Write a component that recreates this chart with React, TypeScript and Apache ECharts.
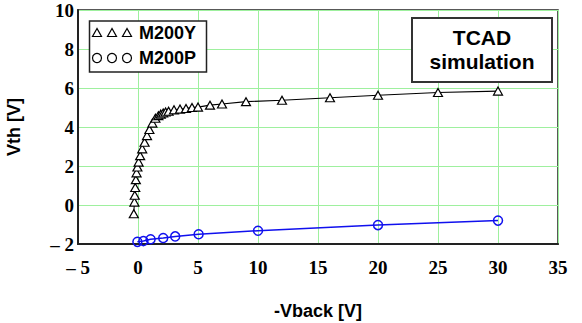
import React, { useEffect, useRef } from "react";
import * as echarts from "echarts";

const m200yX = [-0.35, -0.3, -0.27, -0.23, -0.18, -0.12, -0.05, 0.05, 0.18, 0.35, 0.55, 0.75, 0.95, 1.2, 1.45, 1.7, 1.9, 2.1, 2.3, 2.55, 3.0, 3.5, 4.0, 4.5, 5.0, 6.0, 7.0, 9.0, 12.0, 16.0, 20.0, 25.0, 30.0];
const m200yY = [-0.45, 0.15, 0.5, 0.9, 1.3, 1.65, 1.95, 2.2, 2.53, 2.88, 3.22, 3.56, 3.87, 4.2, 4.45, 4.58, 4.66, 4.72, 4.77, 4.81, 4.88, 4.92, 4.95, 5.0, 5.02, 5.12, 5.18, 5.3, 5.37, 5.5, 5.63, 5.77, 5.84];

const m200pX = [-0.05, 0.45, 1.05, 2.1, 3.1, 5.05, 10.0, 20.0, 30.0];
const m200pY = [-1.89, -1.85, -1.76, -1.69, -1.61, -1.5, -1.32, -1.03, -0.8];

const xTicks = [-5, 0, 5, 10, 15, 20, 25, 30, 35];
const yTicks = [-2, 0, 2, 4, 6, 8, 10];

const seriesNames = ["M200Y", "M200P"];
const annotation = ["TCAD", "simulation"];

const fmt = (v: number) => "{t|" + (v < 0 ? "\u2013 " + Math.abs(v) : String(v)) + "}";

export default function App() {
  const ref = useRef<HTMLDivElement>(null);
  useEffect(() => {
    if (!ref.current) return;
    const chart = echarts.init(ref.current, null, { renderer: "svg" });
    const serif = "Liberation Serif";
    const sans = "Liberation Sans";
    const tickRich = {
      t: { fontFamily: serif, fontWeight: "bold", fontSize: 19, color: "#000" },
    };
    const tri = (cx: number, cy: number) => ({
      type: "polygon",
      shape: { points: [[cx, cy - 4.5], [cx - 4.5, cy + 3.5], [cx + 4.5, cy + 3.5]] },
      style: { fill: "#fff", stroke: "#000", lineWidth: 1.2 },
    });
    const circ = (cx: number, cy: number) => ({
      type: "circle",
      shape: { cx, cy, r: 4.5 },
      style: { fill: "#fff", stroke: "#000", lineWidth: 1.2 },
    });
    chart.setOption({
      animation: false,
      backgroundColor: "#fff",
      textStyle: { fontFamily: serif },
      grid: {
        left: 78,
        right: 24,
        top: 10,
        bottom: 79,
        show: true,
        borderColor: "#222",
        borderWidth: 1.5,
        outerBoundsMode: "none",
      },
      xAxis: {
        type: "value",
        min: xTicks[0],
        max: xTicks[xTicks.length - 1],
        interval: 5,
        name: "-Vback [V]",
        nameLocation: "middle",
        nameGap: 58,
        nameTextStyle: { fontFamily: sans, fontWeight: "bold", fontSize: 18, color: "#000" },
        axisLine: { show: true, onZero: false, lineStyle: { color: "#222", width: 2 } },
        axisTick: { show: false },
        axisLabel: {
          fontFamily: serif,
          fontWeight: "bold",
          fontSize: 19,
          color: "#000",
          margin: 14,
          formatter: (v: number) => fmt(v),
          rich: tickRich,
        },
        splitLine: { show: true, lineStyle: { color: "#9ef09e", width: 1 } },
      },
      yAxis: {
        type: "value",
        min: yTicks[0],
        max: yTicks[yTicks.length - 1],
        interval: 2,
        name: "Vth [V]",
        nameLocation: "middle",
        nameGap: 55,
        nameRotate: 90,
        nameTextStyle: { fontFamily: sans, fontWeight: "bold", fontSize: 18, color: "#000" },
        axisLine: { show: true, onZero: false, lineStyle: { color: "#222", width: 2 } },
        axisTick: { show: false },
        axisLabel: {
          fontFamily: serif,
          fontWeight: "bold",
          fontSize: 19,
          color: "#000",
          margin: 4,
          formatter: (v: number) => fmt(v),
          rich: tickRich,
        },
        splitLine: { show: true, lineStyle: { color: "#9ef09e", width: 1 } },
      },
      series: [
        {
          name: seriesNames[0],
          type: "line",
          data: m200yX.map((x, i) => [x, m200yY[i]]),
          symbol: "triangle",
          symbolSize: [9, 8],
          itemStyle: { color: "#fff", borderColor: "#000", borderWidth: 1.2 },
          lineStyle: { color: "#000", width: 1.1 },
          z: 3,
        },
        {
          name: seriesNames[1],
          type: "line",
          data: m200pX.map((x, i) => [x, m200pY[i]]),
          symbol: "circle",
          symbolSize: 9,
          itemStyle: { color: "rgba(255,255,255,0)", borderColor: "#1010ee", borderWidth: 1.5 },
          lineStyle: { color: "#1010ee", width: 1.5 },
          z: 3,
        },
      ],
      graphic: [
        {
          type: "rect",
          shape: { x: 89.5, y: 21, width: 117, height: 51 },
          style: { fill: "#fff", stroke: "#222", lineWidth: 1.5 },
          z: 10,
        },
        { ...tri(97, 33), z: 11 },
        { ...tri(112, 33), z: 11 },
        { ...tri(127, 33), z: 11 },
        { ...circ(97, 58), z: 11 },
        { ...circ(112, 58), z: 11 },
        { ...circ(127, 58), z: 11 },
        {
          type: "text",
          x: 139,
          y: 33,
          style: { text: seriesNames[0], fontFamily: sans, fontWeight: "bold", fontSize: 18, fill: "#000", verticalAlign: "middle" },
          z: 11,
        },
        {
          type: "text",
          x: 139,
          y: 58,
          style: { text: seriesNames[1], fontFamily: sans, fontWeight: "bold", fontSize: 18, fill: "#000", verticalAlign: "middle" },
          z: 11,
        },
        {
          type: "rect",
          shape: { x: 412, y: 18, width: 140, height: 64 },
          style: { fill: "#fff", stroke: "#333", lineWidth: 2 },
          z: 10,
        },
        {
          type: "text",
          x: 482,
          y: 37,
          style: { text: annotation[0], fontFamily: sans, fontWeight: "bold", fontSize: 21, fill: "#000", align: "center", verticalAlign: "middle" },
          z: 11,
        },
        {
          type: "text",
          x: 482,
          y: 61,
          style: { text: annotation[1], fontFamily: sans, fontWeight: "bold", fontSize: 21, fill: "#000", align: "center", verticalAlign: "middle" },
          z: 11,
        },
      ],
    });
    return () => chart.dispose();
  }, []);
  return (
    <div
      ref={ref}
      style={{ position: "fixed", left: 0, top: 0, width: 582, height: 323, background: "#fff" }}
    />
  );
}
